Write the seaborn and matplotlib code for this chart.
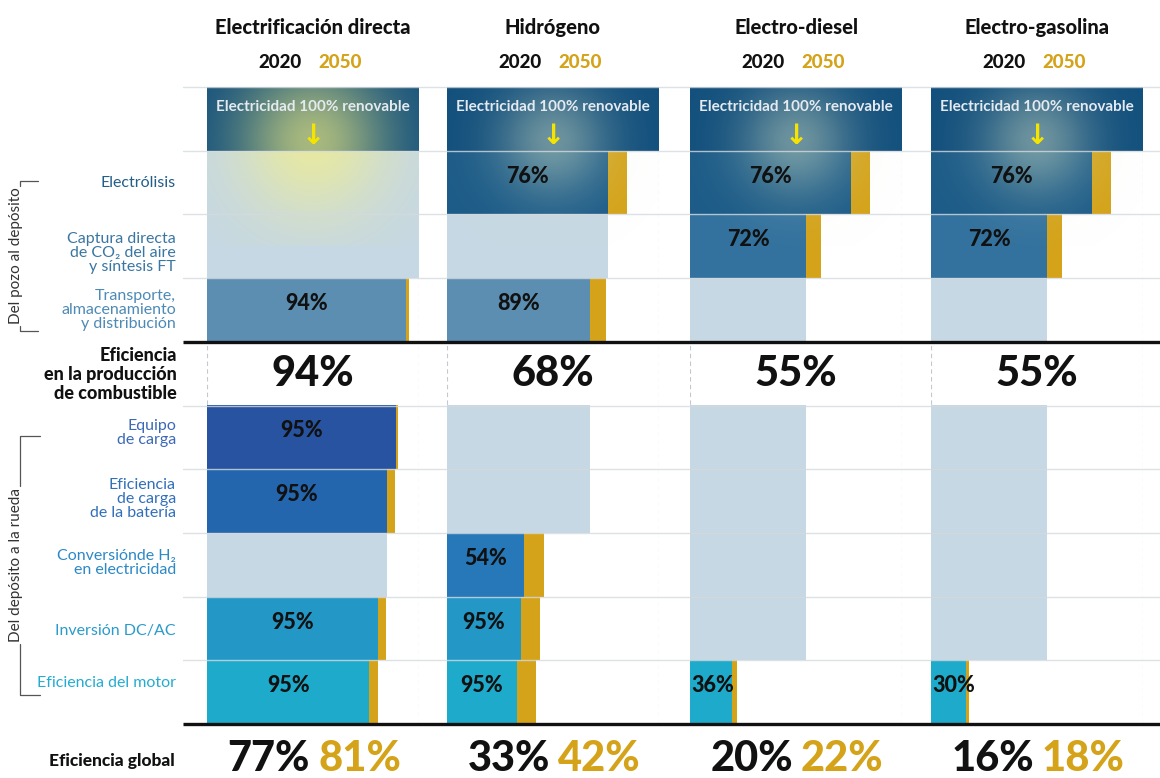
import numpy as np
import pandas as pd
import matplotlib
matplotlib.use("Agg")
import matplotlib.pyplot as plt
import seaborn as sns

sns.set_theme(style="white")
plt.rcParams['font.family'] = ['Lato', 'DejaVu Sans']

# ====================== DATA ======================
columns = ["Electrificación directa", "Hidrógeno", "Electro-diesel", "Electro-gasolina"]
stages = ["Electrólisis", "Captura", "Transporte", "Equipo", "Batería",
          "Conversión", "Inversión", "Motor"]
stage_labels = [
    "Electrólisis",
    "Captura directa\nde CO₂ del aire\ny síntesis FT",
    "Transporte,\nalmacenamiento\ny distribución",
    "Equipo\nde carga",
    "Eficiencia\nde carga\nde la batería",
    "Conversiónde H₂\nen electricidad",
    "Inversión DC/AC",
    "Eficiencia del motor",
]

# stage efficiencies (None = stage not used by this pathway)
elec_2020 = [None, None, 0.94, 0.95, 0.95, None, 0.95, 0.95]
elec_2050 = [None, None, 0.955, 0.945, 0.985, None, 0.95, 0.955]
h2_2020 = [0.76, None, 0.89, None, None, 0.54, 0.95, 0.95]
h2_2050 = [0.85, None, 0.88, None, None, 0.61, 0.96, 0.96]
diesel_2020 = [0.76, 0.72, None, None, None, None, None, 0.36]
diesel_2050 = [0.85, 0.727, None, None, None, None, None, 0.356]
gasolina_2020 = [0.76, 0.72, None, None, None, None, None, 0.30]
gasolina_2050 = [0.85, 0.727, None, None, None, None, None, 0.29]

prod_labels = ["94%", "68%", "55%", "55%"]
global_2020 = ["77%", "33%", "20%", "16%"]
global_2050 = ["81%", "42%", "22%", "18%"]

# ====================== STYLE ======================
GOLD = '#d4a31a'
PAL = {'header': '#13507d', 'Electrólisis': '#1d5c88', 'Captura': '#33729e',
       'Transporte': '#5b8eb1', 'Equipo': '#2753a1', 'Batería': '#2466ae',
       'Conversión': '#2678b8', 'Inversión': '#2398c7', 'Motor': '#1eabcb',
       'pass': '#c6d8e3'}
LABEL_COLORS = ['#215e8a', '#3a76a2', '#4d8ab6', '#3c68b6', '#316fbb',
                '#2d88c6', '#2a9bcc', '#23acd0']

W, H = 1160, 778
COL_LEFT = [207, 447, 690, 931]
COL_W = 212
TOP, ROW_H = 87, 63.7
order = ["header"] + stages[:3] + ["prod"] + stages[3:]


def row_y(k):
    return TOP + (k + 0.5) * ROW_H


def build_frame(e20, e50):
    recs = []
    c20, c50 = 1.0, 1.0
    eff = dict(zip(stages, zip(e20, e50)))
    for r in order:
        if r == "header":
            recs.append((r, 1.0, np.nan, 'header', None))
        elif r == "prod":
            recs.append((r, np.nan, np.nan, 'pass', None))
        else:
            a, b = eff[r]
            if a is None:
                recs.append((r, c20, np.nan, 'pass', None))
            else:
                c20 *= a
                c50 *= b
                recs.append((r, c20, c50, r, a))
    return pd.DataFrame(recs, columns=['row', 'w2020', 'w2050', 'key', 'eff'])


fig = plt.figure(figsize=(W / 100, H / 100), dpi=100)
fig.patch.set_facecolor('white')

series = [(elec_2020, elec_2050), (h2_2020, h2_2050),
          (diesel_2020, diesel_2050), (gasolina_2020, gasolina_2050)]

for i, (e20, e50) in enumerate(series):
    df = build_frame(e20, e50)
    ax = fig.add_axes([COL_LEFT[i] / W, (H - 724) / H, COL_W / W, 637 / H])
    ax.vlines([0, 1], 0.5, 9.5, colors='#c3c8cc', linestyles=(0, (4, 3)), lw=0.8, zorder=0)
    sns.barplot(data=df, x='w2050', y='row', order=order, orient='y', color=GOLD,
                saturation=1, width=1.0, errorbar=None, linewidth=0, ax=ax)
    sns.barplot(data=df, x='w2020', y='row', order=order, orient='y', hue='key',
                palette=PAL, dodge=False, saturation=1, width=1.0, errorbar=None,
                linewidth=0, legend=False, ax=ax)

    # glow around the arrow
    xs = np.linspace(0, 1, 200)
    ys = np.linspace(-0.5, 2.0, 200)
    gx, gy = np.meshgrid(xs, ys)
    r = np.hypot((gx - 0.5) * COL_W, (gy - 0.35) * ROW_H)
    glow = np.zeros(gx.shape + (4,))
    if i == 0:
        glow[..., :3] = (0.98, 0.95, 0.5)
        glow[..., 3] = 0.65 * np.exp(-(r / 75) ** 2)
    else:
        glow[..., :3] = (0.86, 0.9, 0.78)
        glow[..., 3] = 0.45 * np.exp(-(r / 55) ** 2)
    ax.imshow(glow, extent=(0, 1, 2.0, -0.5), origin='upper', aspect='auto', zorder=3)

    ax.set_xlim(0, 1)
    ax.set_ylim(len(order) - 0.5, -0.5)
    ax.set_axis_off()

    # stage percentages inside bars
    for k, rec in df.iterrows():
        if rec['eff'] is None or pd.isna(rec['eff']):
            continue
        txt = f"{round(rec['eff'] * 100)}%"
        if rec['w2020'] < 0.25:
            ax.text(0.005, k - 0.1, txt, ha='left', va='center', fontsize=15.5,
                    fontweight='black', color='#111', zorder=6)
        else:
            ax.text(rec['w2020'] / 2, k - 0.1, txt, ha='center', va='center',
                    fontsize=15.5, fontweight='black', color='#111', zorder=6)

# ====================== OVERLAY (text & rules) ======================
ov = fig.add_axes([0, 0, 1, 1])
ov.set_xlim(0, W)
ov.set_ylim(H, 0)
ov.set_axis_off()
ov.patch.set_alpha(0)

for k in [0, 1, 2, 3, 5, 6, 7, 8, 9]:
    y = TOP + k * ROW_H
    ov.plot([183, W], [y, y], color='#d5dadf', lw=1, alpha=0.8)
for k in [4, 10]:
    y = TOP + k * ROW_H
    ov.plot([183, W], [y, y], color='#111', lw=2.4, solid_capstyle='butt')

for i, name in enumerate(columns):
    cx = COL_LEFT[i] + COL_W / 2
    ov.text(cx, 27, name, ha='center', va='center', fontsize=14.5, fontweight='black', color='#111')
    ov.text(cx - 11, 62, "2020", ha='right', va='center', fontsize=13.5, fontweight='black', color='#111')
    ov.text(cx + 5, 62, "2050", ha='left', va='center', fontsize=13.5, fontweight='black', color=GOLD)
    ov.text(cx, 107, "Electricidad 100% renovable", ha='center', va='center',
            fontsize=11, fontweight='bold', color='#e4eaf0')
    ov.text(cx, 136, "↓", ha='center', va='center', fontsize=20, fontweight='bold',
            color='#f5e400', family=['DejaVu Sans'])
    ov.text(cx, row_y(4), prod_labels[i], ha='center', va='center', fontsize=30,
            fontweight='black', color='#111')
    ov.text(cx - 3, 759, global_2020[i], ha='right', va='center', fontsize=30,
            fontweight='black', color='#111')
    ov.text(cx + 5, 759, global_2050[i], ha='left', va='center', fontsize=30,
            fontweight='black', color=GOLD)

label_rows = [1, 2, 3, 5, 6, 7, 8, 9]
label_shift = [0, 7, 0, -4, -2, -2, 3, -9]
for lab, k, c, dy in zip(stage_labels, label_rows, LABEL_COLORS, label_shift):
    ov.text(176, row_y(k) + dy, lab, ha='right', va='center', fontsize=11.5,
            color=c, linespacing=0.98)

ov.text(177, row_y(4) + 1, "Eficiencia\nen la producción\nde combustible", ha='right',
        va='center', fontsize=13, fontweight='black', color='#111', linespacing=1.12)
ov.text(175, 761, "Eficiencia global", ha='right', va='center', fontsize=12.5,
        fontweight='black', color='#111')

# bracket annotations
bc = '#555'
ov.plot([20, 20, 38], [186, 181, 181], color=bc, lw=0.9)
ov.plot([20, 20, 38], [326, 331, 331], color=bc, lw=0.9)
ov.text(16, 256, "Del pozo al depósito", rotation=90, ha='center', va='center',
        fontsize=11, color='#333')
ov.plot([40, 20, 20], [436, 436, 486], color=bc, lw=0.9)
ov.plot([20, 20, 40], [644, 695, 695], color=bc, lw=0.9)
ov.text(16, 565, "Del depósito a la rueda", rotation=90, ha='center', va='center',
        fontsize=11, color='#333')

fig.savefig("out.png", dpi=100)
